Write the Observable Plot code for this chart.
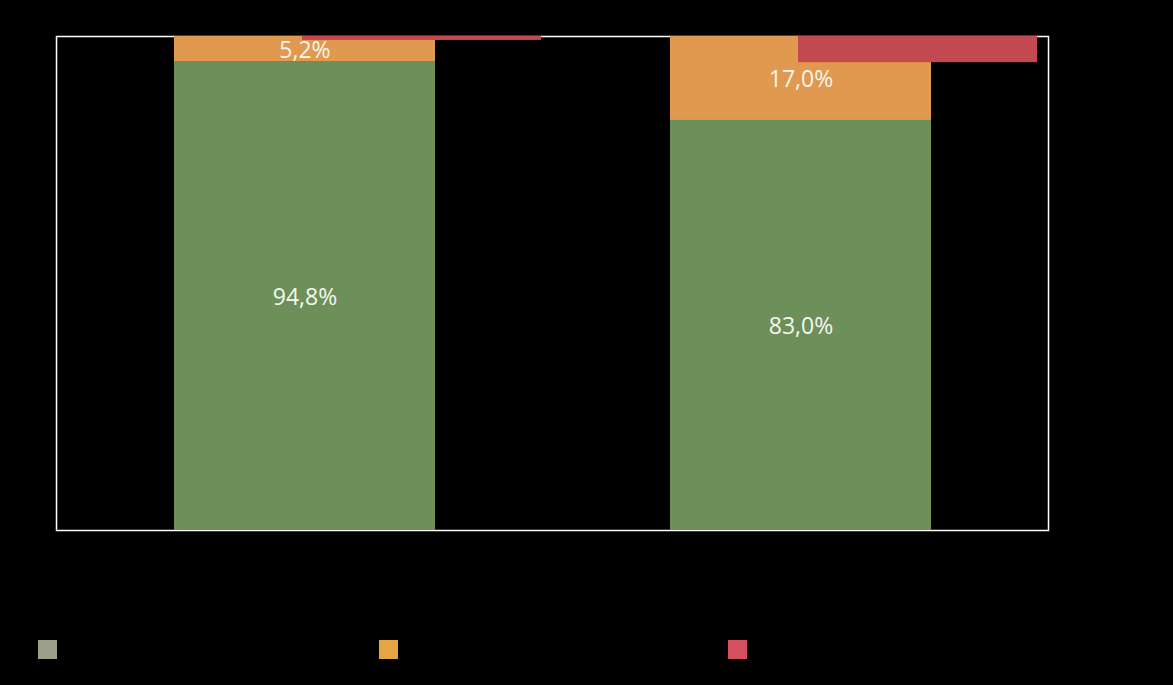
<!DOCTYPE html>
<html>
<head>
<meta charset="utf-8">
<script src="https://cdn.jsdelivr.net/npm/d3@7"></script>
<script src="https://cdn.jsdelivr.net/npm/@observablehq/plot@0.6"></script>
<style>
  html, body { margin: 0; padding: 0; background: #000; }
  #wrap { position: relative; width: 1173px; height: 685px; background: #000; overflow: hidden; }
  .sw { position: absolute; width: 19px; height: 19px; top: 640px; }
</style>
</head>
<body>
<div id="wrap"></div>
<script>
const categories = ["1", "2"];
const greenValues = [94.8, 83.0];
const orangeValues = [5.2, 17.0];
const redValues = [0.8, 5.3];

const colors = { green: "#6d8f5a", orange: "#e0994e", red: "#c2494f" };
const legendColors = ["#9aa08a", "#e6a543", "#d5505f"];

const fmt = v => d3.format(".1f")(v).replace(".", ",") + "%";

const stacked = [];
categories.forEach((c, i) => {
  stacked.push({ cat: c, series: "green", y1: 0, y2: greenValues[i], v: greenValues[i] });
  stacked.push({ cat: c, series: "orange", y1: greenValues[i], y2: greenValues[i] + orangeValues[i], v: orangeValues[i] });
});
const reds = categories.map((c, i) => ({ cat: c, y1: 100 - redValues[i], y2: 100 }));

const chart = Plot.plot({
  width: 1173,
  height: 560,
  marginLeft: 56,
  marginRight: 125,
  marginTop: 36,
  marginBottom: 30,
  style: { background: "#000", fontFamily: "Open Sans, DejaVu Sans, sans-serif" },
  x: { domain: categories, paddingInner: 0.474, paddingOuter: 0.237, axis: null },
  y: { domain: [0, 100], axis: null },
  marks: [
    Plot.frame({ stroke: "white", strokeWidth: 1.5 }),
    Plot.rectY(stacked, { x: "cat", y1: "y1", y2: "y2", fill: d => colors[d.series] }),
    Plot.rectY(reds, { x: "cat", y1: "y1", y2: "y2", fill: colors.red, dx: 117, insetLeft: 11, insetRight: 11 }),
    Plot.text(stacked, { x: "cat", y: d => (d.y1 + d.y2) / 2, text: d => fmt(d.v), fill: "#f6f6ee", fontSize: 23, dy: 1.5 })
  ]
});

const wrap = document.getElementById("wrap");
wrap.appendChild(chart);
[38, 379, 728].forEach((x, i) => {
  const s = document.createElement("div");
  s.className = "sw";
  s.style.left = x + "px";
  s.style.background = legendColors[i];
  wrap.appendChild(s);
});
</script>
</body>
</html>
